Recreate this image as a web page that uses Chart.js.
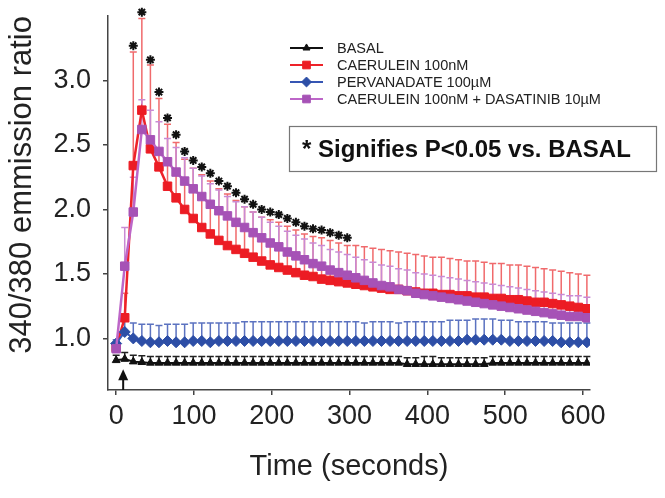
<!DOCTYPE html>
<html><head><meta charset="utf-8">
<script src="https://cdn.jsdelivr.net/npm/chart.js@4.4.1/dist/chart.umd.min.js"></script>
<style>html,body{margin:0;padding:0;background:#fff}#wrap{width:665px;height:498px}</style>
</head><body><div id="wrap"><canvas id="c" width="665" height="498"></canvas></div>
<script>
// ---- data ----
const times = [0,11,22,33,44,55,66,77,88,99,110,121,132,143,154,165,176,187,198,209,220,231,242,253,264,275,286,297,308,319,330,341,352,363,374,385,396,407,418,429,440,451,462,473,484,495,506,517,528,539,550,561,572,583,594,605];

const basal = [0.83,0.84,0.82,0.815,0.81,0.81,0.81,0.81,0.81,0.81,
  0.81,0.81,0.81,0.81,0.81,0.81,0.81,0.81,0.81,0.81,
  0.81,0.81,0.81,0.81,0.81,0.81,0.81,0.81,0.81,0.81,
  0.81,0.81,0.81,0.81,0.80,0.80,0.80,0.80,0.80,0.80,
  0.80,0.80,0.80,0.80,0.81,0.81,0.81,0.81,0.81,0.81,
  0.81,0.81,0.81,0.81,0.81,0.81];
const basalUp = [0.87,0.89,0.87,0.865,0.86,0.86,0.86,0.86,0.86,0.86,
  0.86,0.86,0.86,0.86,0.86,0.86,0.86,0.86,0.86,0.86,
  0.86,0.86,0.86,0.86,0.86,0.86,0.86,0.86,0.86,0.86,
  0.86,0.86,0.86,0.86,0.85,0.85,0.86,0.86,0.85,0.85,
  0.85,0.85,0.85,0.85,0.86,0.86,0.86,0.86,0.86,0.86,
  0.86,0.86,0.86,0.86,0.86,0.86];

const caerulein = [0.93,1.16,2.34,2.77,2.47,2.33,2.18,2.09,2.00,1.93,
  1.86,1.81,1.76,1.72,1.69,1.66,1.63,1.60,1.57,1.55,
  1.53,1.51,1.49,1.48,1.46,1.45,1.44,1.43,1.42,1.41,
  1.40,1.39,1.38,1.38,1.37,1.36,1.35,1.35,1.34,1.34,
  1.33,1.33,1.32,1.32,1.31,1.31,1.30,1.30,1.29,1.28,
  1.28,1.27,1.26,1.25,1.24,1.23];
const caeruleinUp = [0.95,1.35,3.22,3.48,3.12,2.86,2.66,2.52,2.39,2.32,
  2.27,2.22,2.16,2.12,2.07,2.02,1.98,1.94,1.92,1.90,
  1.87,1.84,1.81,1.79,1.78,1.76,1.74,1.72,1.72,1.71,
  1.70,1.69,1.68,1.67,1.66,1.65,1.64,1.63,1.63,1.62,
  1.61,1.60,1.60,1.59,1.58,1.58,1.57,1.57,1.56,1.55,
  1.54,1.53,1.52,1.51,1.50,1.49];

const pervanadate = [0.96,1.05,1.00,0.98,0.97,0.97,0.98,0.97,0.97,0.98,
  0.98,0.97,0.98,0.98,0.98,0.98,0.98,0.98,0.98,0.98,
  0.98,0.98,0.98,0.98,0.98,0.98,0.98,0.98,0.98,0.98,
  0.98,0.98,0.98,0.98,0.98,0.98,0.98,0.98,0.98,0.98,
  0.98,0.99,0.99,0.99,0.99,0.99,0.98,0.98,0.98,0.98,
  0.98,0.98,0.97,0.97,0.97,0.97];
const pervanadateUp = [0.99,1.14,1.12,1.11,1.11,1.10,1.11,1.11,1.11,1.12,
  1.12,1.12,1.12,1.12,1.12,1.13,1.13,1.13,1.13,1.13,
  1.13,1.13,1.13,1.13,1.13,1.13,1.13,1.13,1.13,1.12,
  1.13,1.13,1.13,1.12,1.13,1.13,1.13,1.13,1.13,1.14,
  1.14,1.14,1.15,1.15,1.15,1.14,1.14,1.13,1.13,1.13,
  1.13,1.12,1.12,1.12,1.12,1.12];

const dasatinib = [0.92,1.56,1.98,2.62,2.54,2.45,2.37,2.29,2.22,2.16,
  2.10,2.04,1.99,1.95,1.90,1.86,1.82,1.78,1.74,1.71,
  1.67,1.64,1.61,1.58,1.56,1.53,1.51,1.49,1.47,1.45,
  1.43,1.41,1.40,1.38,1.37,1.35,1.34,1.33,1.32,1.31,
  1.30,1.29,1.28,1.27,1.26,1.25,1.24,1.23,1.22,1.21,
  1.20,1.19,1.18,1.17,1.17,1.16];
const dasatinibUp = [0.95,1.86,2.25,2.85,2.77,2.68,2.55,2.48,2.40,2.32,
  2.26,2.20,2.15,2.10,2.06,2.02,1.98,1.94,1.90,1.87,
  1.83,1.80,1.77,1.74,1.72,1.69,1.67,1.65,1.63,1.61,
  1.59,1.57,1.56,1.54,1.53,1.51,1.50,1.49,1.48,1.47,
  1.46,1.45,1.44,1.43,1.42,1.41,1.40,1.39,1.38,1.37,
  1.36,1.35,1.34,1.33,1.33,1.32];

const sigTimes = [22,33,44,55,66,77,88,99,110,121,132,143,154,165,176,187,198,209,220,231,242,253,264,275,286,297];
const sigLevel = [3.27,3.53,3.16,2.91,2.71,2.58,2.45,2.38,2.33,2.28,2.22,2.18,2.13,2.08,2.04,2.00,1.98,1.96,1.93,1.90,1.87,1.85,1.84,1.82,1.80,1.78];

const xTicks = [0,100,200,300,400,500,600];
const yTicks = [1.0,1.5,2.0,2.5,3.0];
const stimTime = 9;          // arrow marking stimulus
const arrowRange = [0.6, 0.76];

const labels = ['BASAL','CAERULEIN 100nM','PERVANADATE 100\u00b5M','CAERULEIN 100nM + DASATINIB 10\u00b5M'];
const noteText = '* Signifies P<0.05 vs. BASAL';
const xTitle = 'Time (seconds)';
const yTitle = '340/380 emmission ratio';

// ---- build chart ----
const FONT = '"Liberation Sans", Arial, Helvetica, sans-serif';
Chart.defaults.font.family = FONT;
Chart.defaults.color = '#222';

const pts = (ys) => times.map((t, i) => ({x: t, y: ys[i]}));

const series = [
  {label: labels[0], data: pts(basal), upper: basalUp, borderColor: '#111', backgroundColor: '#111', errColor: '#222', pointStyle: 'triangle', pointRadius: 4.5, borderWidth: 2, order: 0},
  {label: labels[1], data: pts(caerulein), upper: caeruleinUp, borderColor: '#ee2229', backgroundColor: '#ec1c24', errColor: '#f06a6c', pointStyle: 'rect', pointRadius: 6, borderWidth: 2.5, order: 3},
  {label: labels[2], data: pts(pervanadate), upper: pervanadateUp, borderColor: '#3656b4', backgroundColor: '#2d4ea6', errColor: '#5b72c0', pointStyle: 'rectRot', pointRadius: 5.5, borderWidth: 2, order: 2},
  {label: labels[3], data: pts(dasatinib), upper: dasatinibUp, borderColor: '#bd66c8', backgroundColor: '#a652b6', errColor: '#c98ad4', pointStyle: 'rect', pointRadius: 6, borderWidth: 2.5, order: 1},
];
series.forEach(s => { s.pointBorderColor = s.backgroundColor; s.pointBackgroundColor = s.backgroundColor; s.pointBorderWidth = 1; s.tension = 0; s.fill = false; s.isSeries = true; });

const stars = {
  label: '', type: 'scatter', data: sigTimes.map((t, i) => ({x: t, y: sigLevel[i]})),
  pointStyle: 'star', pointRadius: 4.5, borderColor: '#111', backgroundColor: '#111', borderWidth: 2, clip: false, order: -1
};

const errorBars = {
  id: 'errorBars',
  beforeDatasetsDraw(chart) {
    const {ctx, scales: {x, y}} = chart;
    chart.data.datasets.forEach(ds => {
      if (!ds.upper) return;
      ctx.save();
      ctx.strokeStyle = ds.errColor; ctx.lineWidth = 1.5;
      ds.data.forEach((p, j) => {
        const px = x.getPixelForValue(p.x), py = y.getPixelForValue(p.y), pu = y.getPixelForValue(ds.upper[j]);
        ctx.beginPath();
        ctx.moveTo(px, py); ctx.lineTo(px, pu);
        ctx.moveTo(px - 3.5, pu); ctx.lineTo(px + 3.5, pu);
        ctx.stroke();
      });
      ctx.restore();
    });
  }
};

const extras = {
  id: 'extras',
  afterDraw(chart) {
    const {ctx, scales: {x, y}} = chart;
    // stimulus arrow
    const ax = x.getPixelForValue(stimTime);
    const y0 = y.getPixelForValue(arrowRange[0]), y1 = y.getPixelForValue(arrowRange[1]);
    ctx.save();
    ctx.strokeStyle = '#111'; ctx.fillStyle = '#111'; ctx.lineWidth = 2;
    ctx.beginPath(); ctx.moveTo(ax, y0); ctx.lineTo(ax, y1 + 6); ctx.stroke();
    ctx.beginPath(); ctx.moveTo(ax, y1); ctx.lineTo(ax - 5, y1 + 11); ctx.lineTo(ax + 5, y1 + 11); ctx.closePath(); ctx.fill();
    ctx.restore();

    // legend
    const lx = 290, ly = 48, dy = 17;
    ctx.save();
    chart.data.datasets.filter(d => d.isSeries).forEach((ds, i) => {
      const yy = ly + i * dy;
      ctx.strokeStyle = ds.borderColor; ctx.lineWidth = 2;
      ctx.beginPath(); ctx.moveTo(lx, yy); ctx.lineTo(lx + 33, yy); ctx.stroke();
      ctx.fillStyle = ds.backgroundColor; ctx.strokeStyle = ds.backgroundColor; ctx.lineWidth = 1;
      Chart.helpers.drawPoint(ctx, {pointStyle: ds.pointStyle, radius: ds.pointRadius * 0.9, borderWidth: 1}, lx + 16.5, yy);
      ctx.fillStyle = '#222';
      ctx.font = '14.5px ' + FONT; ctx.textBaseline = 'middle'; ctx.textAlign = 'left';
      ctx.fillText(ds.label, lx + 47, yy + 1);
    });
    // note box
    ctx.strokeStyle = '#777'; ctx.lineWidth = 1.2;
    ctx.strokeRect(289.5, 126.5, 367, 45);
    ctx.fillStyle = '#111';
    ctx.font = 'bold 24px ' + FONT; ctx.textBaseline = 'middle'; ctx.textAlign = 'left';
    ctx.fillText(noteText, 302, 150);
    ctx.restore();
  }
};

new Chart(document.getElementById('c'), {
  type: 'line',
  data: {datasets: [...series, stars]},
  options: {
    responsive: false, animation: false, devicePixelRatio: 1,
    layout: {padding: {top: 16, right: 75, left: 0, bottom: 0}},
    plugins: {legend: {display: false}, tooltip: {enabled: false}},
    scales: {
      x: {
        type: 'linear', min: -10.5, max: 609,
        afterBuildTicks: s => { s.ticks = xTicks.map(v => ({value: v})); },
        afterFit: s => { s.height = 108; s.paddingLeft = 0; s.paddingRight = 0; },
        grid: {drawOnChartArea: false, drawTicks: true, tickLength: 5, color: '#444', lineWidth: 1.5},
        border: {display: true, color: '#444', width: 1.5},
        ticks: {font: {size: 27}, color: '#222', padding: 5, maxRotation: 0},
        title: {display: true, text: xTitle, font: {size: 29}, color: '#222', padding: {top: 0, bottom: 14}}
      },
      y: {
        type: 'linear', min: 0.6, max: 3.5,
        afterBuildTicks: s => { s.ticks = yTicks.map(v => ({value: v})); },
        afterFit: s => { s.width = 108; s.paddingTop = 0; s.paddingBottom = 0; },
        grid: {drawOnChartArea: false, drawTicks: true, tickLength: 5, color: '#444', lineWidth: 1.5},
        border: {display: true, color: '#444', width: 1.5},
        ticks: {font: {size: 27}, color: '#222', padding: 12, callback: v => Number(v).toFixed(1)},
        title: {display: true, text: yTitle, align: 'end', font: {size: 31}, color: '#222', padding: {top: 4, bottom: 0}}
      }
    }
  },
  plugins: [errorBars, extras]
});
</script>
</body></html>
